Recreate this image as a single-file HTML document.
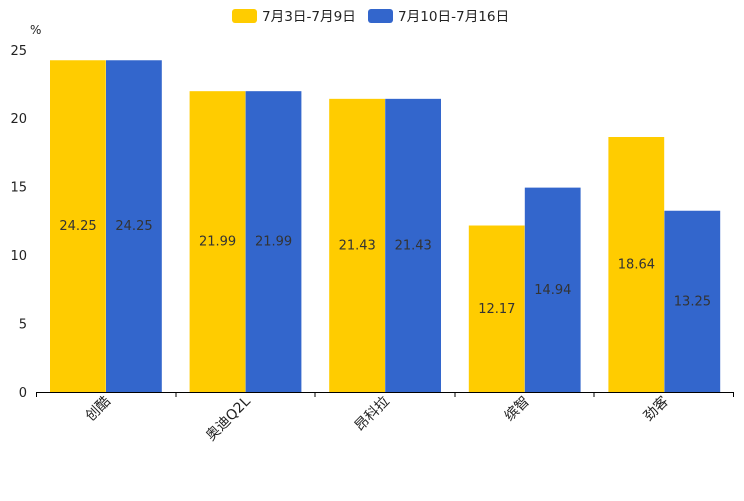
<!DOCTYPE html>
<html><head><meta charset="utf-8"><style>body{margin:0;background:#fff}</style></head><body>
<svg width="744" height="496" xmlns="http://www.w3.org/2000/svg" font-family="'DejaVu Sans','Noto Sans CJK SC',sans-serif">
<rect width="744" height="496" fill="#fff"/>
<rect x="232" y="9" width="25" height="14" rx="3" fill="#FFCC00"/>
<text x="262" y="21" font-size="13.6" fill="#222">7月3日-7月9日</text>
<rect x="368" y="9" width="25" height="14" rx="3" fill="#3366CC"/>
<text x="398" y="21" font-size="13.6" fill="#222">7月10日-7月16日</text>
<text x="30" y="34" font-size="12" fill="#222">%</text>
<g font-size="13" fill="#222" text-anchor="end">
<text x="27" y="397">0</text><text x="27" y="328.5">5</text><text x="27" y="260">10</text><text x="27" y="191.5">15</text><text x="27" y="123">20</text><text x="27" y="55">25</text>
</g>
<g>
<rect x="50" y="60.26" width="55.8" height="331.74" fill="#FFCC00"/>
<rect x="106" y="60.26" width="55.8" height="331.74" fill="#3366CC"/>
<rect x="189.6" y="91.18" width="55.8" height="300.82" fill="#FFCC00"/>
<rect x="245.6" y="91.18" width="55.8" height="300.82" fill="#3366CC"/>
<rect x="329.2" y="98.84" width="55.8" height="293.16" fill="#FFCC00"/>
<rect x="385.2" y="98.84" width="55.8" height="293.16" fill="#3366CC"/>
<rect x="468.8" y="225.51" width="55.8" height="166.49" fill="#FFCC00"/>
<rect x="524.8" y="187.62" width="55.8" height="204.38" fill="#3366CC"/>
<rect x="608.4" y="137" width="55.8" height="255" fill="#FFCC00"/>
<rect x="664.4" y="210.74" width="55.8" height="181.26" fill="#3366CC"/>
</g>
<g font-size="13" fill="#333" text-anchor="middle">
<text x="78" y="230">24.25</text><text x="134" y="230">24.25</text>
<text x="217.6" y="245.6">21.99</text><text x="273.6" y="245.6">21.99</text>
<text x="357.2" y="249.4">21.43</text><text x="413.2" y="249.4">21.43</text>
<text x="496.8" y="312.8">12.17</text><text x="552.8" y="293.8">14.94</text>
<text x="636.4" y="268.5">18.64</text><text x="692.4" y="305.4">13.25</text>
</g>
<line x1="36" y1="392.5" x2="734" y2="392.5" stroke="#000" stroke-width="1"/>
<g stroke="#000">
<line x1="36.5" y1="392" x2="36.5" y2="397"/><line x1="176" y1="392" x2="176" y2="397"/><line x1="315" y1="392" x2="315" y2="397"/><line x1="455" y1="392" x2="455" y2="397"/><line x1="594" y1="392" x2="594" y2="397"/><line x1="733.5" y1="392" x2="733.5" y2="397"/>
</g>
<g font-size="14" fill="#222" text-anchor="end">
<text transform="translate(111,402) rotate(-45)">创酷</text>
<text transform="translate(251,402) rotate(-45)">奥迪Q2L</text>
<text transform="translate(390,402) rotate(-45)">昂科拉</text>
<text transform="translate(530,402) rotate(-45)">缤智</text>
<text transform="translate(669,402) rotate(-45)">劲客</text>
</g>
</svg>
</body></html>
